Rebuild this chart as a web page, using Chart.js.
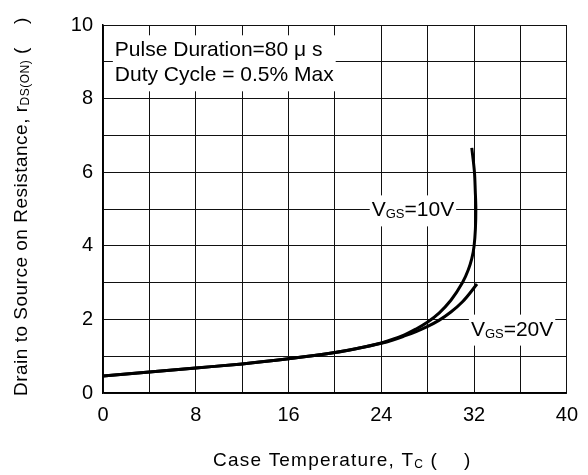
<!DOCTYPE html>
<html>
<head>
<meta charset="utf-8">
<script src="https://cdn.jsdelivr.net/npm/chart.js@4.4.1/dist/chart.umd.min.js"></script>
<style>
  body { margin: 0; background: #fff; }
  #wrap { width: 588px; height: 475px; }
</style>
</head>
<body>
<div id="wrap"><canvas id="rdsChart" width="588" height="475"></canvas></div>
<script>
// data (case temperature vs rDS(on))
const temp10 = [0, 4, 8, 12, 16, 20, 22, 24, 25, 26, 27, 28, 29, 30, 31, 31.5, 31.8, 32.0, 32.15, 32.1, 32.03, 31.8];
const rds10  = [0.46, 0.57, 0.68, 0.79, 0.93, 1.1, 1.215, 1.36, 1.46, 1.58, 1.74, 1.93, 2.18, 2.52, 3.0, 3.35, 3.65, 4.0, 5.0, 5.5, 6.0, 6.66];
const temp20 = [0, 4, 8, 12, 16, 20, 22, 24, 25, 26, 27, 28, 29, 30, 31, 32.25];
const rds20  = [0.46, 0.57, 0.68, 0.79, 0.93, 1.1, 1.215, 1.35, 1.44, 1.55, 1.67, 1.81, 1.98, 2.2, 2.48, 2.96];

const xTickLabels = [0, 8, 16, 24, 32, 40];
const yTickLabels = [0, 2, 4, 6, 8, 10];

const FONT = '"Liberation Sans", Arial, sans-serif';

function toPoints(xs, ys) {
  return xs.map((x, i) => ({ x: x, y: ys[i] }));
}

// draws text made of normal + subscript pieces, starting at x (left), baseline y
function drawRich(ctx, parts, x, y, size) {
  let cx = x;
  parts.forEach(p => {
    const s = p.sub ? Math.round(size * 0.62) : size;
    ctx.font = s + 'px ' + FONT;
    ctx.fillText(p.t, cx, y + (p.sub ? 2 : 0));
    cx += ctx.measureText(p.t).width;
  });
  return cx - x;
}
function richWidth(ctx, parts, size) {
  let w = 0;
  parts.forEach(p => {
    const s = p.sub ? Math.round(size * 0.62) : size;
    ctx.font = s + 'px ' + FONT;
    w += ctx.measureText(p.t).width;
  });
  return w;
}

// white boxed labels inside the plot, anchored in data units (top-left of box)
const notes = [
  { x: 0.85, y: 9.72, size: 21, lines: [[{ t: 'Pulse Duration=80 μ s' }], [{ t: 'Duty Cycle = 0.5% Max' }]] },
  { x: 23.0, y: 5.37, size: 21, lines: [[{ t: 'V' }, { t: 'GS', sub: true }, { t: '=10V' }]] },
  { x: 31.55, y: 2.13, size: 21, lines: [[{ t: 'V' }, { t: 'GS', sub: true }, { t: '=20V' }]] }
];

const notesPlugin = {
  id: 'notes',
  beforeDatasetsDraw(chart) {
    const ctx = chart.ctx;
    const xs = chart.scales.x, ys = chart.scales.y;
    ctx.save();
    ctx.textBaseline = 'alphabetic';
    notes.forEach(n => {
      const px = xs.getPixelForValue(n.x);
      const py = ys.getPixelForValue(n.y);
      const lineH = 25;
      let w = 0;
      n.lines.forEach(l => { w = Math.max(w, richWidth(ctx, l, n.size)); });
      const h = n.lines.length * lineH + 6;
      ctx.fillStyle = '#fff';
      ctx.fillRect(px, py, w + 4, h);
      ctx.fillStyle = '#000';
      n.lines.forEach((l, i) => {
        drawRich(ctx, l, px + 2, py + 21 + i * lineH, n.size);
      });
    });
    ctx.restore();
  }
};

const titlesPlugin = {
  id: 'axisTitles',
  afterDraw(chart) {
    const ctx = chart.ctx;
    ctx.save();
    ctx.fillStyle = '#000';
    ctx.textBaseline = 'alphabetic';
    ctx.textAlign = 'left';
    // x title
    ctx.letterSpacing = '1.2px';
    const xt = [{ t: 'Case Temperature, T' }, { t: 'C', sub: true }, { t: ' (    )' }];
    drawRich(ctx, xt, 213, 466, 19);
    // y title, rotated
    ctx.letterSpacing = '0.5px';
    const yt = [{ t: 'Drain to Source on Resistance, r' }, { t: 'DS(ON)', sub: true }, { t: ' (    )' }];
    ctx.translate(27, 396);
    ctx.rotate(-Math.PI / 2);
    drawRich(ctx, yt, 0, 0, 19);
    ctx.restore();
  }
};

const ctx = document.getElementById('rdsChart').getContext('2d');
new Chart(ctx, {
  type: 'scatter',
  data: {
    datasets: [{
      label: 'VGS=10V',
      data: toPoints(temp10, rds10),
      showLine: true,
      borderColor: '#000',
      borderWidth: 3,
      pointRadius: 0,
      cubicInterpolationMode: 'monotone'
    }, {
      label: 'VGS=20V',
      data: toPoints(temp20, rds20),
      showLine: true,
      borderColor: '#000',
      borderWidth: 3,
      pointRadius: 0,
      cubicInterpolationMode: 'monotone'
    }]
  },
  options: {
    responsive: false,
    animation: false,
    indexAxis: 'y',
    layout: { padding: { left: 0, right: 21, top: 25, bottom: 0 } },
    plugins: {
      legend: { display: false },
      tooltip: { enabled: false }
    },
    scales: {
      x: {
        type: 'linear',
        min: 0,
        max: 40,
        afterFit: s => { s.height = 82; },
        ticks: {
          stepSize: 4,
          autoSkip: false,
          maxRotation: 0,
          padding: 10,
          color: '#000',
          font: { family: FONT, size: 20 },
          callback: v => xTickLabels.includes(v) ? String(v) : ''
        },
        grid: { color: '#111', lineWidth: 1, drawTicks: false },
        border: { color: '#000', width: 1.5 }
      },
      y: {
        type: 'linear',
        min: 0,
        max: 10,
        afterFit: s => { s.width = 103; },
        ticks: {
          stepSize: 1,
          autoSkip: false,
          padding: 10,
          color: '#000',
          font: { family: FONT, size: 20 },
          callback: v => yTickLabels.includes(v) ? String(v) : ''
        },
        grid: { color: '#111', lineWidth: 1, drawTicks: false },
        border: { color: '#000', width: 1.5 }
      }
    }
  },
  plugins: [notesPlugin, titlesPlugin]
});
</script>
</body>
</html>
